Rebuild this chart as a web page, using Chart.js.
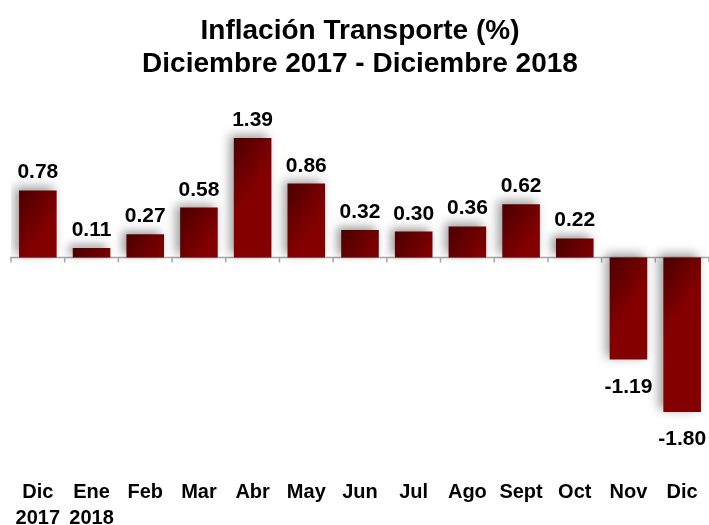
<!DOCTYPE html>
<html>
<head>
<meta charset="utf-8">
<script src="https://cdn.jsdelivr.net/npm/chart.js@4/dist/chart.umd.min.js"></script>
<style>
  html, body { margin: 0; padding: 0; background: #fff; }
  #wrap { width: 709px; height: 525px; }
</style>
</head>
<body>
<div id="wrap"><canvas id="inflChart" width="709" height="525"></canvas></div>
<script>
const months = [['Dic', '2017'], ['Ene', '2018'], 'Feb', 'Mar', 'Abr', 'May', 'Jun', 'Jul', 'Ago', 'Sept', 'Oct', 'Nov', 'Dic'];
const inflation = [0.78, 0.11, 0.27, 0.58, 1.39, 0.86, 0.32, 0.30, 0.36, 0.62, 0.22, -1.19, -1.80];
const titleLines = ['Inflación Transporte (%)', 'Diciembre 2017 - Diciembre 2018'];

const FONT = "'Liberation Sans', Arial, sans-serif";

// bar fill: dark maroon at the top-left corner, brighter red elsewhere
function barFill(context) {
  const chart = context.chart;
  if (!chart.chartArea) return '#6a0000';
  const xs = chart.scales.x, ys = chart.scales.y;
  const cx = xs.getPixelForValue(context.dataIndex);
  const half = xs.width / months.length * 0.35;
  const a = ys.getPixelForValue(0), b = ys.getPixelForValue(context.raw);
  const top = Math.min(a, b);
  const g = chart.ctx.createLinearGradient(cx - half, top, cx + half, top + 25);
  g.addColorStop(0, '#4a0000');
  g.addColorStop(1, '#840000');
  return g;
}

const zeroAxis = {
  id: 'zeroAxis',
  beforeDatasetsDraw(chart) {
    const { ctx, chartArea } = chart;
    const xs = chart.scales.x, ys = chart.scales.y;
    const y0 = ys.getPixelForValue(0);
    ctx.save();
    ctx.strokeStyle = '#a6a6a6';
    ctx.lineWidth = 1.5;
    ctx.beginPath();
    ctx.moveTo(chartArea.left - 1, y0);
    ctx.lineTo(chartArea.right, y0);
    const step = xs.getPixelForValue(1) - xs.getPixelForValue(0);
    for (let i = 0; i <= months.length; i++) {
      const x = xs.getPixelForValue(i) - step / 2;
      ctx.moveTo(x, y0);
      ctx.lineTo(x, y0 + 5);
    }
    ctx.stroke();
    ctx.restore();
    // soft shadow on the bars
    ctx.save();
    ctx.shadowColor = 'rgba(0,0,0,0.4)';
    ctx.shadowBlur = 10;
    ctx.shadowOffsetX = -4;
    ctx.shadowOffsetY = -3;
  },
  afterDatasetsDraw(chart) {
    const ctx = chart.ctx;
    ctx.restore();
    ctx.save();
    ctx.font = 'bold 21px ' + FONT;
    ctx.fillStyle = '#000';
    ctx.textAlign = 'center';
    ctx.textBaseline = 'alphabetic';
    chart.getDatasetMeta(0).data.forEach((bar, i) => {
      const v = inflation[i];
      const y = v >= 0 ? bar.y - 12 : bar.y + 33;
      ctx.fillText(v.toFixed(2), bar.x, y);
    });
    ctx.restore();
  }
};

const ctx = document.getElementById('inflChart').getContext('2d');
const chart = new Chart(ctx, {
  type: 'bar',
  data: {
    labels: months,
    datasets: [{
      data: inflation,
      backgroundColor: barFill,
      borderWidth: 0,
      barPercentage: 0.7,
      categoryPercentage: 1.0
    }]
  },
  options: {
    responsive: false,
    maintainAspectRatio: false,
    animation: false,
    layout: { padding: { left: 11, right: 0, top: 0, bottom: -6 } },
    plugins: {
      legend: { display: false },
      tooltip: { enabled: false },
      title: {
        display: true,
        text: titleLines,
        color: '#000',
        font: { family: FONT, size: 28, weight: 'bold', lineHeight: 1.2 },
        padding: { top: 14, bottom: 19 }
      }
    },
    scales: {
      x: {
        grid: { display: false, drawTicks: false },
        border: { display: false },
        ticks: {
          color: '#000',
          padding: 0,
          autoSkip: false,
          maxRotation: 0,
          font: { family: FONT, size: 20, weight: 'bold', lineHeight: 1.3 }
        }
      },
      y: {
        display: false,
        min: -2.58,
        max: 1.83
      }
    }
  },
  plugins: [zeroAxis]
});
</script>
</body>
</html>
